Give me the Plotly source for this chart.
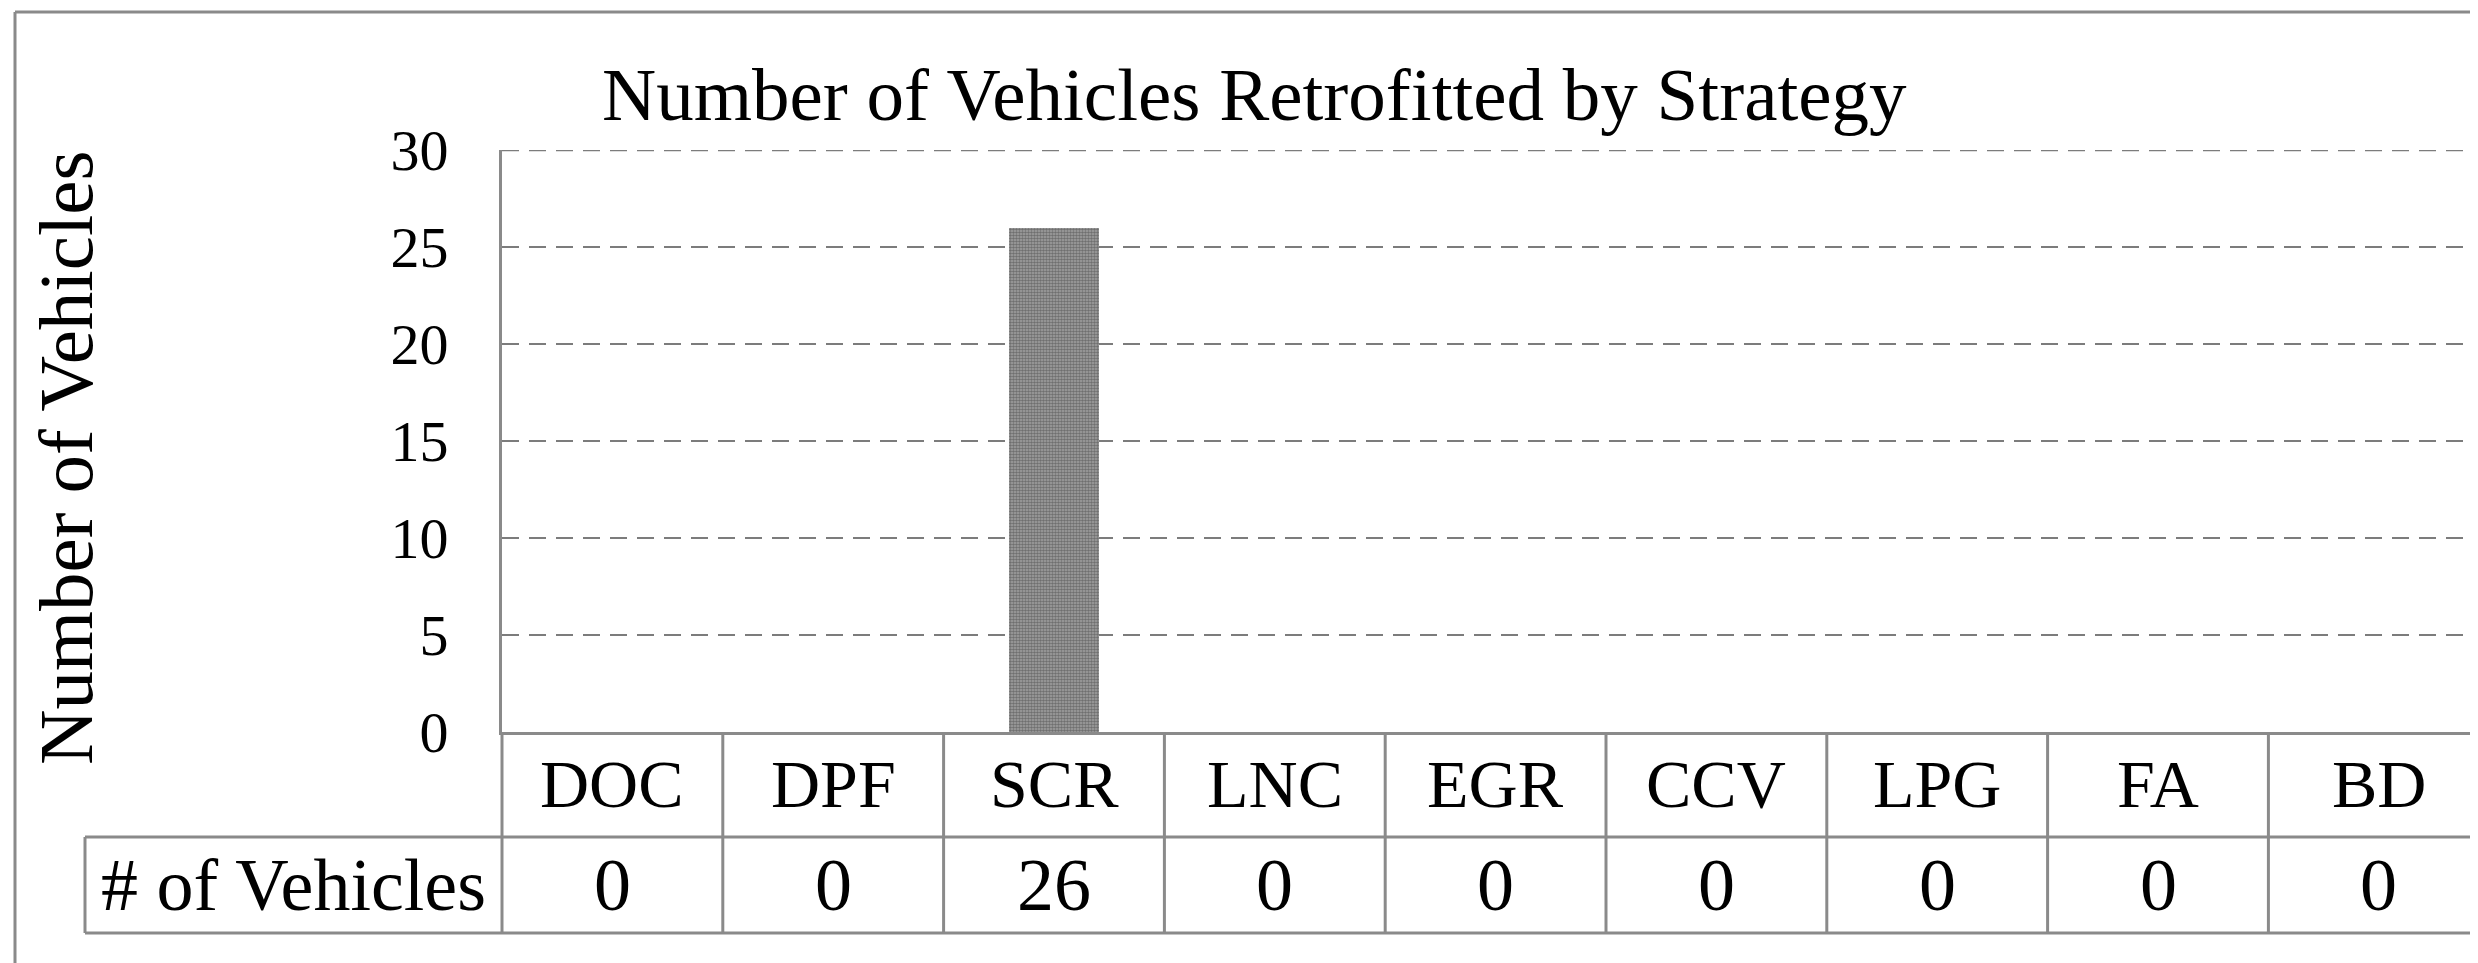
import plotly.graph_objects as go

# ---- data ----
categories = ["DOC", "DPF", "SCR", "LNC", "EGR", "CCV", "LPG", "FA", "BD"]
vehicles = [0, 0, 26, 0, 0, 0, 0, 0, 0]
y_ticks = [0, 5, 10, 15, 20, 25, 30]
row_label = "# of Vehicles"
title_text = "Number of Vehicles Retrofitted by Strategy"
y_title = "Number of Vehicles"

# ---- geometry (reference-image pixels; page body has an 8px margin) ----
OFF = 8
W, H = 2478 - OFF, 963 - OFF
PL, PR, PT, PB = 502, 2478, 150, 732          # plot area edges in screen px
pw, ph = PR - PL, PB - PT

def px_x(x):
    return (x - PL) / pw

def px_y(y):
    return (PB - y) / ph

FONT = "Liberation Serif, Times New Roman, serif"
LINE = "#8a8a8a"
GRID = "#7c7c7c"

fig = go.Figure()
fig.add_trace(go.Bar(
    x=categories, y=vehicles, width=0.41,
    marker=dict(color="#888888", line=dict(width=0),
                pattern=dict(shape=".", size=3, solidity=0.6,
                             fgcolor="#3a3a3a", bgcolor="#a4a4a4")),
    showlegend=False,
))

n = len(categories)
col_w = 220.8
x_end = -0.5 + pw / col_w

fig.update_layout(
    width=W, height=H,
    margin=dict(l=PL - OFF, r=0, t=PT - OFF, b=(963 - OFF) - (PB - OFF), pad=0),
    paper_bgcolor="white", plot_bgcolor="white",
    font=dict(family=FONT, color="black"),
    xaxis=dict(type="category", range=[-0.5, x_end], showticklabels=False,
               showgrid=False, zeroline=False, showline=True,
               linecolor=LINE, linewidth=3, ticks=""),
    yaxis=dict(range=[0, 30], tickvals=y_ticks, showgrid=True,
               gridcolor=GRID, gridwidth=2, griddash="17px,10px",
               zeroline=False, showline=True, linecolor=LINE, linewidth=3,
               ticks="", ticklabelstandoff=39,
               tickfont=dict(size=58, family=FONT, color="black")),
    bargap=0,
)

# title
fig.add_annotation(text=title_text, xref="paper", yref="paper",
                   x=px_x(1254), y=px_y(95), xanchor="center", yanchor="middle",
                   showarrow=False, font=dict(size=75, family=FONT, color="black"))
# y title
fig.add_annotation(text=y_title, xref="paper", yref="paper", textangle=-90,
                   x=px_x(66), y=px_y(458), xanchor="center", yanchor="middle",
                   showarrow=False, font=dict(size=77, family=FONT, color="black"))

ROW1_T, ROW1_B, ROW2_B = 732, 837, 933
LABEL_L = 85

shapes = []
def hline(x0, x1, y, xref="paper"):
    shapes.append(dict(type="line", xref=xref, yref="paper", x0=x0, x1=x1,
                       y0=px_y(y), y1=px_y(y), line=dict(color=LINE, width=3)))

def vline(x, y0, y1, xref="paper"):
    shapes.append(dict(type="line", xref=xref, yref="paper", x0=x, x1=x,
                       y0=px_y(y0), y1=px_y(y1), line=dict(color=LINE, width=3)))

# top gridline (at the range edge, which plotly omits)
shapes.append(dict(type="line", xref="paper", yref="y", x0=0, x1=1,
                   y0=y_ticks[-1], y1=y_ticks[-1], layer="below",
                   line=dict(color=GRID, width=2.5, dash="17px,10px")))

# table lines
hline(px_x(LABEL_L), 1.0, ROW1_B)
hline(px_x(LABEL_L), 1.0, ROW2_B)
vline(px_x(LABEL_L), ROW1_B, ROW2_B)
vline(0, ROW1_T, ROW2_B)
for i in range(1, n):
    vline(i - 0.5, ROW1_T, ROW2_B, xref="x")
# outer border
hline(px_x(15), 1.0, 12)
vline(px_x(15), 12, 963)

fig.update_layout(shapes=shapes)

# table text
for cat, v in zip(categories, vehicles):
    fig.add_annotation(text=cat, xref="x", yref="paper", x=cat,
                       y=px_y((ROW1_T + ROW1_B) / 2), xanchor="center",
                       yanchor="middle", showarrow=False,
                       font=dict(size=68, family=FONT, color="black"))
    fig.add_annotation(text=str(v), xref="x", yref="paper", x=cat,
                       y=px_y((ROW1_B + ROW2_B) / 2), xanchor="center",
                       yanchor="middle", showarrow=False,
                       font=dict(size=74, family=FONT, color="black"))
fig.add_annotation(text=row_label, xref="paper", yref="paper",
                   x=px_x((LABEL_L + PL) / 2), y=px_y((ROW1_B + ROW2_B) / 2),
                   xanchor="center", yanchor="middle", showarrow=False,
                   font=dict(size=74, family=FONT, color="black"))

fig.write_html("out.html")
